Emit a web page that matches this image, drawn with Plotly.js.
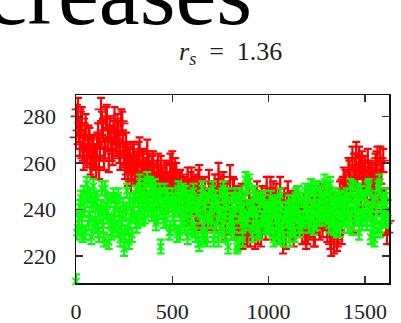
<!DOCTYPE html>
<html>
<head>
<meta charset="utf-8">
<script src="https://cdn.plot.ly/plotly-3.0.1.min.js"></script>
<style>html,body{margin:0;padding:0;background:#fff;}#chart{width:401px;height:323px;}</style>
</head>
<body>
<div id="chart"></div>
<script>
const xValues = [
  0,5,10,15,20,25,30,35,40,45,50,55,60,65,70,75,80,85,90,95,
  100,105,110,115,120,125,130,135,140,145,150,155,160,165,170,175,180,185,190,195,
  200,205,210,215,220,225,230,235,240,245,250,255,260,265,270,275,280,285,290,295,
  300,305,310,315,320,325,330,335,340,345,350,355,360,365,370,375,380,385,390,395,
  400,405,410,415,420,425,430,435,440,445,450,455,460,465,470,475,480,485,490,495,
  500,505,510,515,520,525,530,535,540,545,550,555,560,565,570,575,580,585,590,595,
  600,605,610,615,620,625,630,635,640,645,650,655,660,665,670,675,680,685,690,695,
  700,705,710,715,720,725,730,735,740,745,750,755,760,765,770,775,780,785,790,795,
  800,805,810,815,820,825,830,835,840,845,850,855,860,865,870,875,880,885,890,895,
  900,905,910,915,920,925,930,935,940,945,950,955,960,965,970,975,980,985,990,995,
  1000,1005,1010,1015,1020,1025,1030,1035,1040,1045,1050,1055,1060,1065,1070,1075,1080,1085,1090,1095,
  1100,1105,1110,1115,1120,1125,1130,1135,1140,1145,1150,1155,1160,1165,1170,1175,1180,1185,1190,1195,
  1200,1205,1210,1215,1220,1225,1230,1235,1240,1245,1250,1255,1260,1265,1270,1275,1280,1285,1290,1295,
  1300,1305,1310,1315,1320,1325,1330,1335,1340,1345,1350,1355,1360,1365,1370,1375,1380,1385,1390,1395,
  1400,1405,1410,1415,1420,1425,1430,1435,1440,1445,1450,1455,1460,1465,1470,1475,1480,1485,1490,1495,
  1500,1505,1510,1515,1520,1525,1530,1535,1540,1545,1550,1555,1560,1565,1570,1575,1580,1585,1590,1595,
  1600,1605,1610,1615,1620
];
const redValues = [
  271,280,283,274,268,277,279,266,262,272,276,263,265,271,270,260,259,267,266,262,
  263,258,268,272,258,266,283,277,274,262,266,279,280,270,261,275,271,266,264,273,
  279,270,268,276,273,265,262,278,277,269,264,258,268,263,255,261,262,252,258,264,
  263,256,252,260,258,264,266,250,254,261,260,255,248,257,265,259,256,250,252,258,
  260,254,251,248,256,259,246,252,258,250,253,247,249,256,255,251,244,250,259,254,
  260,253,250,257,255,248,246,251,252,242,244,250,249,245,240,247,253,238,247,251,
  253,246,243,249,250,240,238,252,254,236,245,248,233,242,249,239,231,244,252,237,
  246,241,238,247,250,235,242,248,255,239,236,244,249,251,240,232,244,247,234,241,
  254,238,243,249,248,232,236,245,241,234,233,240,246,228,230,242,239,231,229,237,
  244,229,231,240,238,234,228,243,247,230,233,238,229,245,241,236,235,232,249,240,
  237,243,249,234,241,247,232,236,246,230,238,244,249,240,230,226,244,236,228,241,
  247,239,235,243,242,232,229,238,238,234,245,240,233,236,240,230,236,242,231,228,
  230,236,243,232,233,240,239,229,229,235,245,238,237,232,241,246,233,239,246,236,
  238,231,244,240,228,225,236,242,226,233,241,227,229,244,247,236,230,249,253,246,
  252,240,244,257,256,250,248,262,235,253,259,264,251,245,262,258,246,260,255,249,
  258,246,249,261,256,252,243,255,253,240,247,259,260,262,251,248,262,256,244,261,
  238,244,234,230,235
];
const greenValues = [
  209,230,232,236,241,245,236,229,247,240,230,251,244,234,238,246,228,242,250,233,
  236,243,245,231,229,238,241,249,233,227,249,240,237,244,226,235,244,230,235,246,
  240,234,231,243,246,238,227,232,236,242,223,230,239,248,232,226,244,237,229,240,
  238,244,247,233,235,242,252,248,241,236,246,250,237,244,253,240,243,251,249,238,
  240,246,250,234,237,243,245,248,224,239,242,235,248,241,236,246,244,230,232,242,
  246,238,234,242,241,229,249,244,230,236,243,248,237,233,247,240,228,245,240,232,
  236,243,248,231,229,240,242,227,225,237,245,249,233,228,240,244,227,235,246,238,
  235,242,249,227,231,245,243,236,227,240,238,232,246,249,229,237,241,246,224,233,
  237,230,244,238,231,246,240,224,225,243,246,238,233,227,239,245,253,234,236,250,
  252,240,241,229,234,244,247,238,238,231,230,242,244,236,236,245,240,233,232,240,
  238,233,245,240,231,227,242,237,235,243,228,234,246,240,233,229,227,238,240,235,
  236,243,227,232,243,238,233,229,246,241,238,247,231,236,244,233,236,242,248,240,
  242,237,233,247,250,240,238,232,245,249,234,241,249,236,240,246,236,243,252,238,
  244,249,237,233,251,245,241,236,232,240,246,231,239,244,231,236,245,240,236,242,
  241,246,233,238,244,250,238,232,249,243,236,240,243,248,230,237,247,234,239,245,
  245,239,234,249,250,240,228,236,242,233,227,245,238,231,249,252,231,240,244,236,
  239,244,246,235,236
];
const redError = 5;
const greenError = 3;
const xTicks = [0, 500, 1000, 1500];
const yTicks = [220, 240, 260, 280];
const titleText = 'increases';
const subtitleText = '<i>r</i><sub><i>s</i></sub>\u00A0\u00A0=\u00A0\u00A01.36';

const serif = '"Liberation Serif", "Times New Roman", serif';

const traces = [
  {
    x: xValues, y: redValues, type: 'scatter', mode: 'markers',
    cliponaxis: false,
    marker: {symbol: 'cross-thin-open', size: 9, color: '#ff0000', line: {color: '#ff0000', width: 1.8}},
    error_y: {type: 'constant', value: redError, visible: true, color: '#ff0000', thickness: 2.2, width: 4},
    showlegend: false, hoverinfo: 'skip'
  },
  {
    x: xValues, y: greenValues, type: 'scatter', mode: 'markers',
    cliponaxis: false,
    marker: {symbol: 'x-thin-open', size: 7, color: '#00ff00', line: {color: '#00ff00', width: 1.8}},
    error_y: {type: 'constant', value: greenError, visible: true, color: '#00ff00', thickness: 2.2, width: 4},
    showlegend: false, hoverinfo: 'skip'
  }
];

const axisCommon = {
  showgrid: false, zeroline: false,
  showline: true, linecolor: '#111', linewidth: 1.5, mirror: 'ticks',
  ticks: 'inside', ticklen: 7, tickwidth: 1.5, tickcolor: '#333',
  tickfont: {family: serif, size: 22, color: '#222'}
};

const layout = {
  width: 401, height: 323,
  margin: {l: 76, r: 12, t: 95, b: 40, pad: 0},
  paper_bgcolor: '#ffffff', plot_bgcolor: '#ffffff',
  showlegend: false,
  xaxis: Object.assign({}, axisCommon, {
    range: [0, 1625], tickmode: 'array', tickvals: xTicks, ticktext: xTicks.map(String),
    ticklabelstandoff: 8
  }),
  yaxis: Object.assign({}, axisCommon, {
    range: [208.3, 289.2], tickmode: 'array', tickvals: yTicks, ticktext: yTicks.map(String),
    ticklabelstandoff: 14
  }),
  annotations: [
    {
      text: titleText, xref: 'paper', yref: 'paper', x: 0.569, y: 1.543,
      xanchor: 'right', yanchor: 'middle', showarrow: false,
      font: {family: serif, size: 92, color: '#000'}
    },
    {
      text: subtitleText, xref: 'paper', yref: 'paper', x: 0.495, y: 1.225,
      xanchor: 'center', yanchor: 'middle', showarrow: false,
      font: {family: serif, size: 26, color: '#222'}
    }
  ]
};

Plotly.newPlot('chart', traces, layout, {staticPlot: true, displayModeBar: false});
</script>
</body>
</html>
